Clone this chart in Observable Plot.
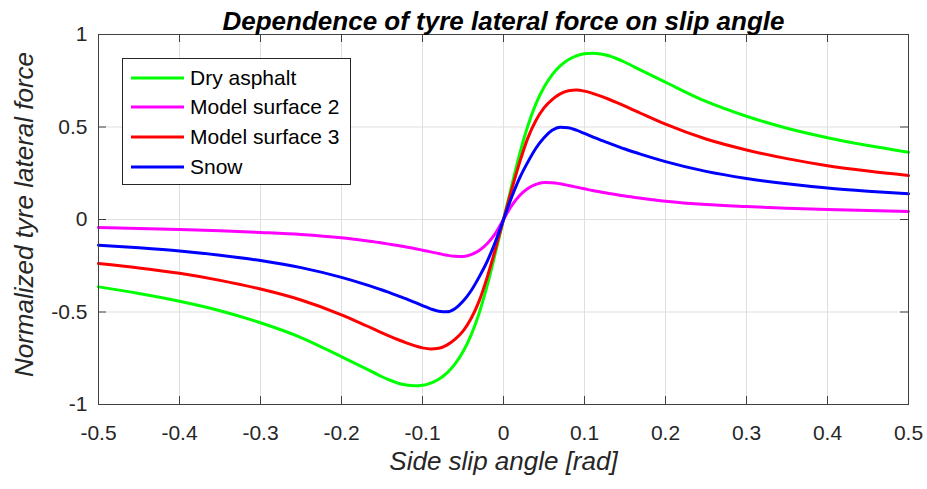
<!DOCTYPE html>
<html>
<head>
<meta charset="utf-8">
<script src="https://cdn.jsdelivr.net/npm/d3@7"></script>
<script src="https://cdn.jsdelivr.net/npm/@observablehq/plot@0.6"></script>
<style>
  body { margin: 0; background: #fff; }
  #chart { position: relative; width: 927px; height: 489px; font-family: "Liberation Sans", Arial, Helvetica, sans-serif; }
  #chart svg { display: block; }
  .legend { position: absolute; left: 122px; top: 58px; width: 229px; height: 127px; box-sizing: border-box;
            border: 1px solid #262626; background: #fff; }
  .legend .row { position: absolute; left: 0; height: 30px; display: flex; align-items: center; }
  .legend .row svg { margin-left: 8px; margin-right: 6px; }
  .legend .row span { font-size: 21px; color: #000; white-space: nowrap; }
</style>
</head>
<body>
<div id="chart"></div>
<script>
// Side slip angle samples [rad]
const slip = [-0.5, -0.45, -0.4, -0.35, -0.3, -0.25, -0.2, -0.17, -0.15, -0.14, -0.13, -0.12, -0.11, -0.1,
  -0.09, -0.08, -0.07, -0.06, -0.05, -0.04, -0.03, -0.02, -0.01, 0,
  0.01, 0.02, 0.03, 0.04, 0.05, 0.06, 0.07, 0.08, 0.09, 0.1, 0.11, 0.12, 0.13, 0.14,
  0.15, 0.17, 0.2, 0.25, 0.3, 0.35, 0.4, 0.45, 0.5];

// Normalized lateral force for each surface
const dryAsphalt = [-0.364, -0.4, -0.442, -0.493, -0.558, -0.638, -0.742, -0.806, -0.85, -0.869, -0.885, -0.895, -0.899, -0.896,
  -0.884, -0.863, -0.83, -0.782, -0.715, -0.625, -0.505, -0.355, -0.18, 0,
  0.18, 0.355, 0.505, 0.625, 0.715, 0.782, 0.83, 0.863, 0.884, 0.896, 0.899, 0.895, 0.885, 0.869,
  0.85, 0.806, 0.742, 0.638, 0.558, 0.493, 0.442, 0.4, 0.364];
const modelSurface2 = [-0.043, -0.048, -0.054, -0.061, -0.07, -0.081, -0.099, -0.115, -0.127, -0.134, -0.141, -0.149, -0.157, -0.166,
  -0.175, -0.184, -0.193, -0.199, -0.2, -0.19, -0.168, -0.13, -0.075, 0,
  0.075, 0.13, 0.168, 0.19, 0.2, 0.199, 0.193, 0.184, 0.175, 0.166, 0.157, 0.149, 0.141, 0.134,
  0.127, 0.115, 0.099, 0.081, 0.07, 0.061, 0.054, 0.048, 0.043];
const modelSurface3 = [-0.238, -0.262, -0.291, -0.329, -0.376, -0.435, -0.515, -0.573, -0.613, -0.632, -0.65, -0.667, -0.682, -0.694,
  -0.7, -0.696, -0.679, -0.648, -0.603, -0.535, -0.44, -0.31, -0.16, 0,
  0.16, 0.31, 0.44, 0.535, 0.603, 0.648, 0.679, 0.696, 0.7, 0.694, 0.682, 0.667, 0.65, 0.632,
  0.613, 0.573, 0.515, 0.435, 0.376, 0.329, 0.291, 0.262, 0.238];
const snow = [-0.139, -0.153, -0.17, -0.193, -0.222, -0.26, -0.313, -0.352, -0.381, -0.397, -0.413, -0.429, -0.447, -0.465,
  -0.483, -0.496, -0.499, -0.482, -0.442, -0.385, -0.31, -0.225, -0.12, 0,
  0.12, 0.225, 0.31, 0.385, 0.442, 0.482, 0.499, 0.496, 0.483, 0.465, 0.447, 0.429, 0.413, 0.397,
  0.381, 0.352, 0.313, 0.26, 0.222, 0.193, 0.17, 0.153, 0.139];

const surfaces = ["Dry asphalt", "Model surface 2", "Model surface 3", "Snow"];
const colors = ["#00ff00", "#ff00ff", "#ff0000", "#0000ff"];
const seriesValues = [dryAsphalt, modelSurface2, modelSurface3, snow];

const xTicks = [-0.5, -0.4, -0.3, -0.2, -0.1, 0, 0.1, 0.2, 0.3, 0.4, 0.5];
const xTickLabels = ["-0.5", "-0.4", "-0.3", "-0.2", "-0.1", "0", "0.1", "0.2", "0.3", "0.4", "0.5"];
const yTicks = [-1, -0.5, 0, 0.5, 1];
const yTickLabels = ["-1", "-0.5", "0", "0.5", "1"];

const titleText = "Dependence of tyre lateral force on slip angle";
const xLabel = "Side slip angle [rad]";
const yLabel = "Normalized tyre lateral force";

// long-format table for the line mark
const rows = surfaces.flatMap((s, k) => slip.map((a, i) => ({surface: s, slip: a, force: seriesValues[k][i]})));

const W = 927, H = 489;
const mL = 98, mR = 19, mT = 34, mB = 85;
const innerW = W - mL - mR, innerH = H - mT - mB;
const tickLen = 8;
const axisColor = "#404040";
const fontFamily = '"Liberation Sans", Arial, Helvetica, sans-serif';

const chart = Plot.plot({
  width: W,
  height: H,
  marginLeft: mL,
  marginRight: mR,
  marginTop: mT,
  marginBottom: mB,
  style: {fontFamily, background: "#fff", overflow: "visible"},
  x: {domain: [-0.5, 0.5]},
  y: {domain: [-1, 1]},
  color: {domain: surfaces, range: colors},
  marks: [
    Plot.gridX(xTicks, {stroke: "#dfdfdf", strokeOpacity: 1}),
    Plot.gridY(yTicks, {stroke: "#dfdfdf", strokeOpacity: 1}),
    Plot.line(rows, {x: "slip", y: "force", z: "surface", stroke: "surface", strokeWidth: 3, curve: "monotone-x"}),
    Plot.frame({stroke: axisColor, strokeWidth: 1}),
    // inward ticks on all four sides
    Plot.tickX(xTicks, {x: d => d, insetTop: innerH - tickLen, stroke: axisColor}),
    Plot.tickX(xTicks, {x: d => d, insetBottom: innerH - tickLen, stroke: axisColor}),
    Plot.tickY(yTicks, {y: d => d, insetRight: innerW - tickLen, stroke: axisColor}),
    Plot.tickY(yTicks, {y: d => d, insetLeft: innerW - tickLen, stroke: axisColor}),
    Plot.axisX(xTicks, {anchor: "bottom", tickSize: 0, tickPadding: 21, label: null,
      tickFormat: (d, i) => xTickLabels[i], fontSize: 21, fill: "#262626"}),
    Plot.axisY(yTicks, {anchor: "left", tickSize: 0, tickPadding: 11, label: null,
      tickFormat: (d, i) => yTickLabels[i], fontSize: 21, fill: "#262626"}),
    Plot.text([xLabel], {text: d => d, frameAnchor: "bottom", dy: 65, fontSize: 26,
      fontStyle: "italic", fill: "#262626"}),
    Plot.text([yLabel], {text: d => d, frameAnchor: "left", textAnchor: "middle", dx: -74, dy: -5, rotate: -90,
      fontSize: 26, fontStyle: "italic", fill: "#262626"}),
    Plot.text([titleText], {text: d => d, frameAnchor: "top", dy: -23, fontSize: 26,
      fontWeight: "bold", fontStyle: "italic", fill: "#000"})
  ]
});

const root = document.getElementById("chart");
root.appendChild(chart);

// legend box drawn over the axes, upper left
const legend = document.createElement("div");
legend.className = "legend";
surfaces.forEach((s, k) => {
  const row = document.createElement("div");
  row.className = "row";
  row.style.top = (3.5 + k * 29.7) + "px";
  row.innerHTML = `<svg width="53" height="6"><line x1="0" x2="53" y1="3" y2="3" stroke="${colors[k]}" stroke-width="3"/></svg><span>${s}</span>`;
  legend.appendChild(row);
});
root.appendChild(legend);
</script>
</body>
</html>
